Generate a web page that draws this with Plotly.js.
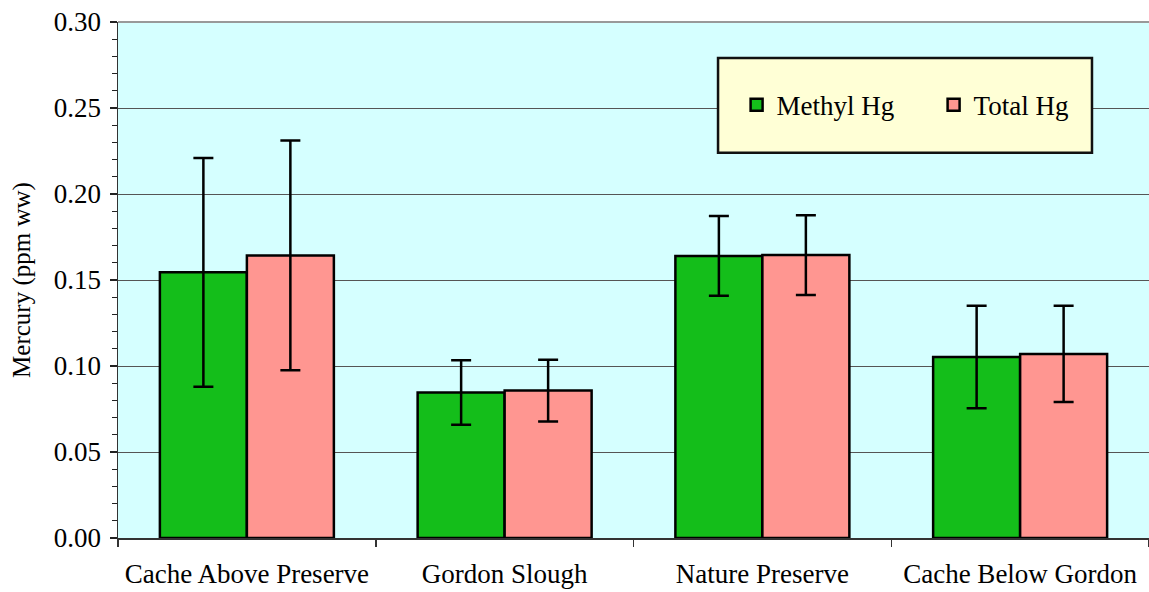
<!DOCTYPE html>
<html>
<head>
<meta charset="utf-8">
<script src="https://cdn.plot.ly/plotly-3.0.1.min.js"></script>
<style>html,body{margin:0;padding:0;background:#fff;}#chart{width:1149px;height:592px;}</style>
</head>
<body>
<div id="chart"></div>
<script>
var categories = ["Cache Above Preserve", "Gordon Slough", "Nature Preserve", "Cache Below Gordon"];
var methylHg = [0.1545, 0.0846, 0.1640, 0.1053];
var methylErr = [0.0665, 0.0187, 0.0232, 0.0298];
var totalHg = [0.1643, 0.0857, 0.1645, 0.1070];
var totalErr = [0.0668, 0.0180, 0.0232, 0.0280];
var yTicks = [0, 0.05, 0.10, 0.15, 0.20, 0.25, 0.30];
var yTickLabels = ["0.00", "0.05", "0.10", "0.15", "0.20", "0.25", "0.30"];

var font = "Liberation Serif, Times New Roman, serif";

var traces = [
  {
    type: "bar", name: "Methyl Hg", x: categories, y: methylHg,
    marker: {color: "#14BE1A", line: {color: "#000", width: 2.5}},
    error_y: {type: "data", array: methylErr, visible: true, color: "#000", thickness: 2.5, width: 10}
  },
  {
    type: "bar", name: "Total Hg", x: categories, y: totalHg,
    marker: {color: "#FF9691", line: {color: "#000", width: 2.5}},
    error_y: {type: "data", array: totalErr, visible: true, color: "#000", thickness: 2.5, width: 10}
  }
];

var layout = {
  width: 1149, height: 592,
  margin: {l: 118, r: 0, t: 22, b: 54, pad: 0},
  paper_bgcolor: "#fff",
  plot_bgcolor: "#D5FFFF",
  font: {family: font, size: 27, color: "#000"},
  barmode: "group",
  bargap: 0.325,
  bargroupgap: 0,
  showlegend: true,
  legend: {
    orientation: "h",
    x: 0.600, xanchor: "left",
    y: 0.839, yanchor: "middle",
    bgcolor: "rgba(0,0,0,0)",
    borderwidth: 0,
    font: {family: font, size: 27, color: "#000"},
    entrywidth: 152, entrywidthmode: "pixels",
    itemclick: false
  },
  xaxis: {
    type: "category",
    tickson: "boundaries",
    tickangle: 0,
    ticks: "outside", ticklen: 7, tickwidth: 1.5, tickcolor: "#333",
    ticklabelstandoff: 11,
    showline: true, linecolor: "#333", linewidth: 1.5,
    showgrid: false,
    tickfont: {family: font, size: 27},
    automargin: false
  },
  yaxis: {
    range: [0, 0.30],
    tickvals: yTicks, ticktext: yTickLabels,
    ticks: "outside", ticklen: 7, tickwidth: 1.5, tickcolor: "#222",
    ticklabelstandoff: 3,
    showline: true, linecolor: "#333", linewidth: 1.5,
    showgrid: true, gridcolor: "#555", gridwidth: 1,
    zeroline: false,
    minor: {dtick: 0.01, ticks: "outside", ticklen: 5, tickwidth: 1.2, tickcolor: "#222", showgrid: false},
    tickfont: {family: font, size: 27},
    title: {text: "Mercury (ppm ww)", font: {family: font, size: 25}, standoff: 16},
    automargin: false
  },
  shapes: [
    {type: "line", xref: "paper", yref: "paper", x0: 0, x1: 1, y0: 1, y1: 1, line: {color: "#999", width: 2}},
    {type: "rect", xref: "paper", yref: "paper", x0: 0.582, x1: 0.9447, y0: 0.7464, y1: 0.9303,
     fillcolor: "#FFFFD6", line: {color: "#111", width: 2.5}, layer: "above"}
  ]
};

Plotly.newPlot("chart", traces, layout, {displayModeBar: false, staticPlot: true});
</script>
</body>
</html>
